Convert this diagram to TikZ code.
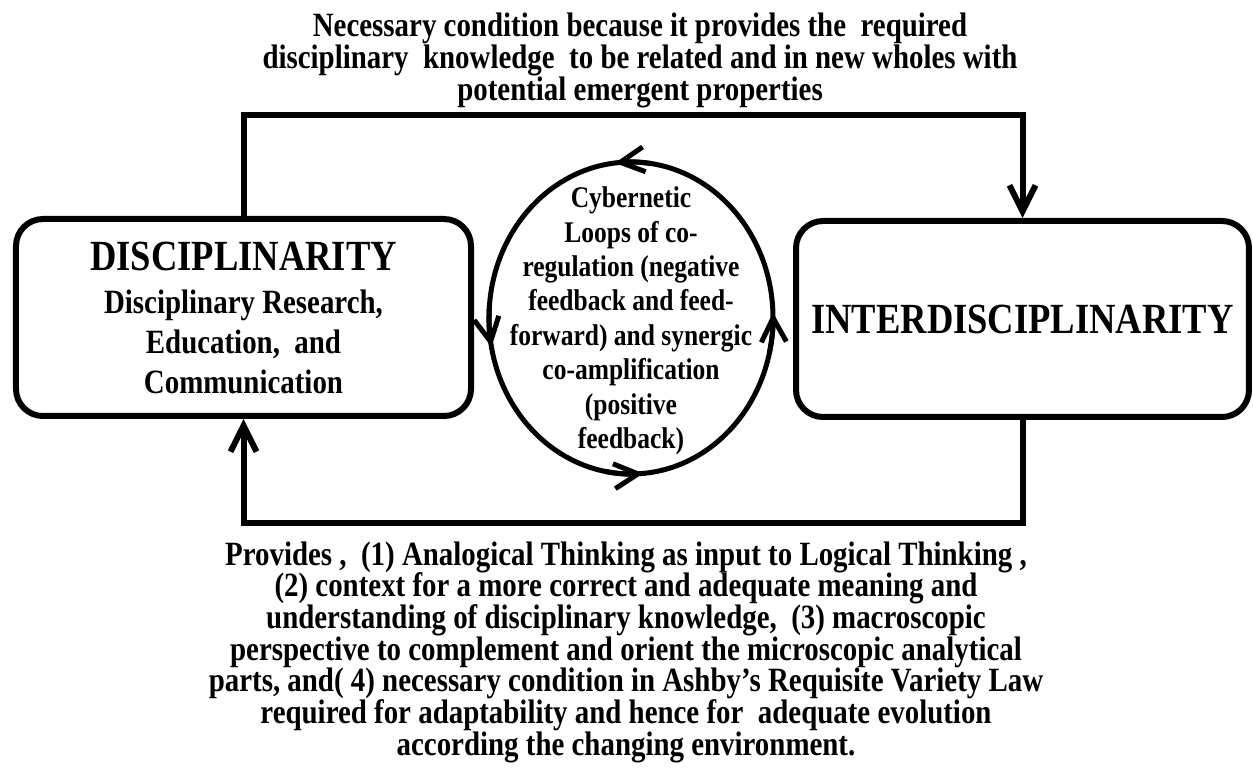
\documentclass[tikz,border=0pt]{standalone}
\usepackage{fontspec}
\setmainfont{Liberation Serif}
\usetikzlibrary{arrows.meta,shapes.geometric}
\begin{document}
\begin{tikzpicture}[x=1pt,y=1pt,
  cond/.style={xscale=0.85, transform shape},
  box/.style={draw, line width=6pt, rounded corners=27pt, inner sep=2pt, align=center, cond},
  conn/.style={line width=6pt},
  tipped/.style={-{Straight Barb[length=26pt,width=26pt]}},
  looparr/.style={line width=5pt,-{Straight Barb[length=24pt,width=25pt]}},
  txt/.style={align=center, inner sep=0pt, cond}]
\useasboundingbox (0,0) rectangle (1253,768);

% anchor points
\coordinate (pdisc) at (243.5,450.5);
\coordinate (pinter) at (1022.5,449);
\coordinate (ploop) at (631,581.3);
\coordinate (ptop) at (640,755);
\coordinate (pbot) at (626,226.6);

% boxes
\node[box, minimum width=535.3, minimum height=197, font=\bfseries\fontsize{34}{40}\selectfont] (disc) at (pdisc)
  {{\fontsize{43}{43}\selectfont DISCIPLINARITY}\\[3pt]
   Disciplinary Research,\\ Education,\ \ and\\ Communication};
\node[box, minimum width=532.9, minimum height=196, font=\bfseries\fontsize{43}{43}\selectfont] (inter) at (pinter)
  {INTERDISCIPLINARITY};

% central loop
\node[draw, ellipse, line width=5pt, minimum width=284, minimum height=312, inner sep=0pt] (loop) at (631,450) {};
\node[txt, anchor=north, font=\bfseries\fontsize{30}{34.4}\selectfont] (looptext) at (ploop)
  {Cybernetic\\ Loops of co-\\ regulation (negative\\ feedback and feed-\\ forward) and synergic\\ co-amplification\\ (positive\\ feedback)};
\draw[looparr] (loop.center) ++(81.5:142 and 156) arc[start angle=81.5, end angle=96.5, x radius=142, y radius=156];
\draw[looparr] (loop.center) ++(175.7:142 and 156) arc[start angle=175.7, end angle=190.7, x radius=142, y radius=156];
\draw[looparr] (loop.center) ++(260:142 and 156) arc[start angle=260, end angle=275, x radius=142, y radius=156];
\draw[looparr] (loop.center) ++(-13:142 and 156) arc[start angle=-13, end angle=2, x radius=142, y radius=156];

% connectors
\coordinate (topbar) at (640,653);
\coordinate (botbar) at (630,245);
\draw[conn, tipped] (disc.north) |- (topbar) -| (inter.north);
\draw[conn, tipped] (inter.south) |- (botbar) -| (disc.south);

% labels
\node[txt, anchor=north, font=\bfseries\fontsize{34}{30}\selectfont] (toplabel) at (ptop)
  {Necessary condition because it provides the\ \ required\\
   disciplinary\ \ knowledge\ \ to be related and in new wholes with\\
   potential emergent properties};
\node[txt, anchor=north, font=\bfseries\fontsize{34}{31.7}\selectfont] (botlabel) at (pbot)
  {Provides ,\ \ (1) Analogical Thinking as input to Logical Thinking ,\\
   (2) context for a more correct and adequate meaning and\\
   understanding of disciplinary knowledge,\ \ (3) macroscopic\\
   perspective to complement and orient the microscopic analytical\\
   parts, and( 4) necessary condition in Ashby’s Requisite Variety Law\\
   required for adaptability and hence for\ \ adequate evolution\\
   according the changing environment.};
\end{tikzpicture}
\end{document}
